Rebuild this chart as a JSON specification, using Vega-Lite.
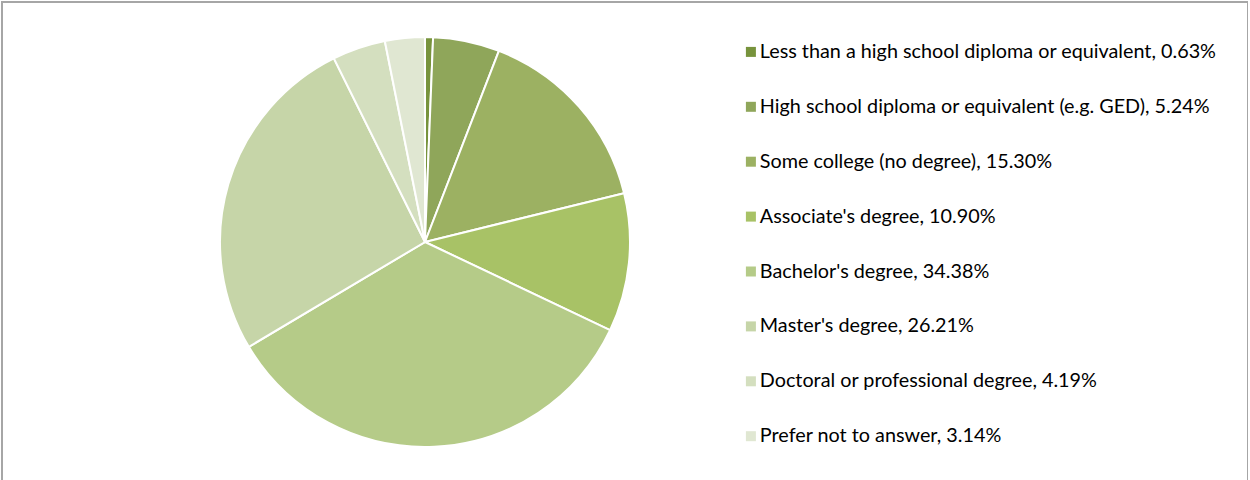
{
  "$schema": "https://vega.github.io/schema/vega-lite/v6.json",
  "width": 1246,
  "height": 480,
  "autosize": {"type": "none"},
  "padding": {"left": 2, "top": 2, "right": 0, "bottom": 0},
  "background": "white",
  "view": {"stroke": "#a6a6a6", "strokeWidth": 2, "fill": "white"},
  "config": {
    "font": "Lato"
  },
  "data": {
    "values": [
      {"order": 1, "category": "Less than a high school diploma or equivalent, 0.63%", "value": 0.63},
      {"order": 2, "category": "High school diploma or equivalent (e.g. GED), 5.24%", "value": 5.24},
      {"order": 3, "category": "Some college (no degree), 15.30%", "value": 15.30},
      {"order": 4, "category": "Associate's degree, 10.90%", "value": 10.90},
      {"order": 5, "category": "Bachelor's degree, 34.38%", "value": 34.38},
      {"order": 6, "category": "Master's degree, 26.21%", "value": 26.21},
      {"order": 7, "category": "Doctoral or professional degree, 4.19%", "value": 4.19},
      {"order": 8, "category": "Prefer not to answer, 3.14%", "value": 3.14}
    ]
  },
  "mark": {"type": "arc", "outerRadius": 205, "stroke": "white", "strokeWidth": 2, "xOffset": -200},
  "encoding": {
    "theta": {"field": "value", "type": "quantitative", "stack": true},
    "order": {"field": "order", "type": "quantitative"},
    "color": {
      "field": "category",
      "type": "nominal",
      "sort": {"field": "order"},
      "scale": {
        "domain": [
          "Less than a high school diploma or equivalent, 0.63%",
          "High school diploma or equivalent (e.g. GED), 5.24%",
          "Some college (no degree), 15.30%",
          "Associate's degree, 10.90%",
          "Bachelor's degree, 34.38%",
          "Master's degree, 26.21%",
          "Doctoral or professional degree, 4.19%",
          "Prefer not to answer, 3.14%"
        ],
        "range": ["#77933c", "#8fa65a", "#9cb162", "#a8c266", "#b5cb88", "#c6d5a8", "#d4dfbf", "#e0e7d2"]
      },
      "legend": {
        "orient": "none",
        "legendX": 739,
        "legendY": 40,
        "title": null,
        "padding": 0,
        "symbolType": "square",
        "symbolSize": 100,
        "symbolStrokeWidth": 0,
        "symbolOpacity": 1,
        "labelFont": "Lato",
        "labelFontSize": 19.8,
        "labelColor": "#000000",
        "labelOffset": -1,
        "labelLimit": 600,
        "rowPadding": 33.9
      }
    }
  }
}
